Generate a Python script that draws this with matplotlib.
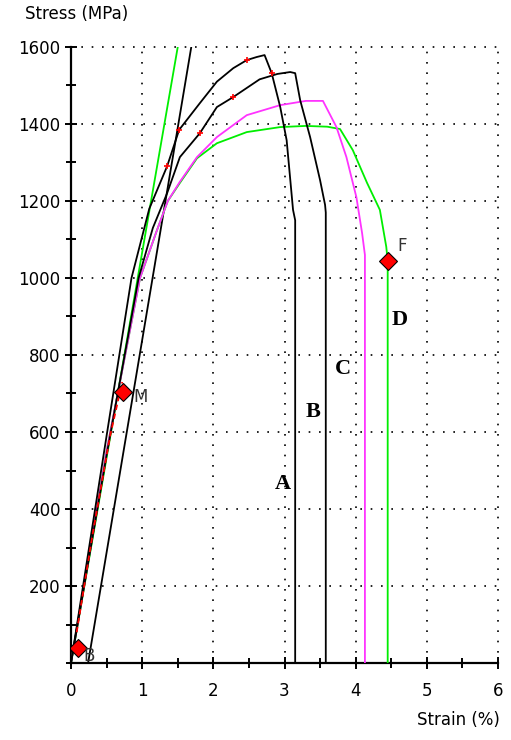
import numpy as np
import matplotlib
matplotlib.use('Agg')
import matplotlib.pyplot as plt
from matplotlib.ticker import MultipleLocator

plt.rcParams['font.family'] = ['DejaVu Sans']

# curve A (black, upper)
a_x = [0, 0.5, 0.85, 1.1, 1.35, 1.52, 1.81, 2.05, 2.28, 2.47, 2.61, 2.72, 2.82, 2.94, 3.03, 3.12, 3.15, 3.15]
a_y = [0, 590, 1000, 1180, 1290, 1385, 1454, 1510, 1545, 1566, 1574, 1579, 1532, 1444, 1358, 1177, 1150, 0]
# curve B (black, lower)
b_x = [0, 0.5, 0.95, 1.15, 1.35, 1.53, 1.81, 2.05, 2.28, 2.65, 2.9, 3.08, 3.15, 3.22, 3.36, 3.5, 3.57, 3.58, 3.58]
b_y = [0, 540, 1000, 1130, 1220, 1314, 1376, 1444, 1470, 1516, 1530, 1535, 1532, 1462, 1366, 1254, 1190, 1170, 0]
# curve C (magenta)
c_x = [0, 0.5, 0.97, 1.2, 1.36, 1.53, 1.77, 2.05, 2.47, 2.94, 3.3, 3.54, 3.73, 3.87, 4.01, 4.09, 4.13, 4.13]
c_y = [0, 550, 1000, 1120, 1200, 1250, 1314, 1366, 1423, 1449, 1460, 1460, 1392, 1314, 1210, 1117, 1060, 0]
# curve D (green)
d_x = [0, 0.5, 0.97, 1.2, 1.36, 1.53, 1.77, 2.05, 2.47, 2.94, 3.3, 3.6, 3.78, 3.96, 4.16, 4.34, 4.43, 4.45, 4.45]
d_y = [0, 550, 1000, 1120, 1200, 1247, 1311, 1350, 1379, 1392, 1395, 1393, 1387, 1332, 1247, 1177, 1081, 1044, 0]
# straight elastic lines
eg_x = [0, 1.5]; eg_y = [0, 1600]
eb_x = [0.24, 1.69]; eb_y = [0, 1600]
# red overlay bits
red_x = [0.08, 0.3, 0.55, 0.72]; red_y = [80, 330, 590, 730]
redpt_x = [1.35, 1.52, 2.47, 2.82, 1.81, 2.28]; redpt_y = [1290, 1385, 1566, 1532, 1376, 1470]
# markers
mk_x = [0.1, 0.73, 4.45]; mk_y = [39, 704, 1044]; mk_lab = ['B', 'M', 'F']
# curve letters
let_x = [2.98, 3.4, 3.82, 4.62]; let_y = [465, 652, 763, 891]; let_t = ['A', 'B', 'C', 'D']

fig = plt.figure(figsize=(5.11, 7.40), dpi=100)
ax = fig.add_axes([71/511, 77/740, 427/511, 616/740])

grid_kw = dict(color='black', lw=1.2, linestyle=(0, (1, 5.2)), zorder=0)
for gy in range(200, 1601, 200):
    ax.axhline(gy, clip_on=False, **grid_kw)
for gx in range(1, 7):
    ax.axvline(gx, clip_on=False, **grid_kw)

ax.plot(eg_x, eg_y, color='#00ee00', lw=1.3, zorder=2)
ax.plot(eb_x, eb_y, color='black', lw=1.3, zorder=2)
ax.plot(d_x, d_y, color='#00ee00', lw=1.3, zorder=3)
ax.plot(c_x, c_y, color='#ff33ff', lw=1.3, zorder=3)
ax.plot(b_x, b_y, color='black', lw=1.3, zorder=4)
ax.plot(a_x, a_y, color='black', lw=1.3, zorder=4)
ax.plot(red_x, red_y, color='red', lw=1.3, linestyle=(0, (3, 2)), zorder=5)
ax.plot(redpt_x, redpt_y, '+', color='red', ms=4, mew=1.2, zorder=5)

ax.plot(mk_x, mk_y, 'D', color='red', mec='black', mew=0.8, ms=9, zorder=6)
offs = [(0.08, -22), (0.14, -12), (0.14, 40)]
for x, y, t, (dx, dy) in zip(mk_x, mk_y, mk_lab, offs):
    ax.text(x + dx, y + dy, t, fontsize=12, color='#333333', va='center', ha='left', zorder=7)

for x, y, t in zip(let_x, let_y, let_t):
    ax.text(x, y, t, fontsize=16, fontweight='bold', family='Liberation Serif',
            ha='center', va='center', zorder=7)

ax.set_xlim(0, 6); ax.set_ylim(0, 1600)
ax.spines['top'].set_visible(False); ax.spines['right'].set_visible(False)
ax.spines['left'].set_linewidth(1.6); ax.spines['bottom'].set_linewidth(1.6)
ax.xaxis.set_major_locator(MultipleLocator(1)); ax.xaxis.set_minor_locator(MultipleLocator(0.5))
ax.yaxis.set_major_locator(MultipleLocator(200)); ax.yaxis.set_minor_locator(MultipleLocator(100))
ax.set_yticks(range(200, 1601, 200))
ax.tick_params(which='major', direction='inout', length=9, width=1.4, labelsize=12, pad=3)
ax.tick_params(which='minor', direction='inout', length=7, width=1.4)
ax.tick_params(axis='x', pad=9)

fig.text(25/511, 1 - 14/740, 'Stress (MPa)', fontsize=12, va='center', ha='left')
fig.text(500/511, 1 - 720/740, 'Strain (%)', fontsize=12, va='center', ha='right')

fig.savefig('out.png', dpi=100)
